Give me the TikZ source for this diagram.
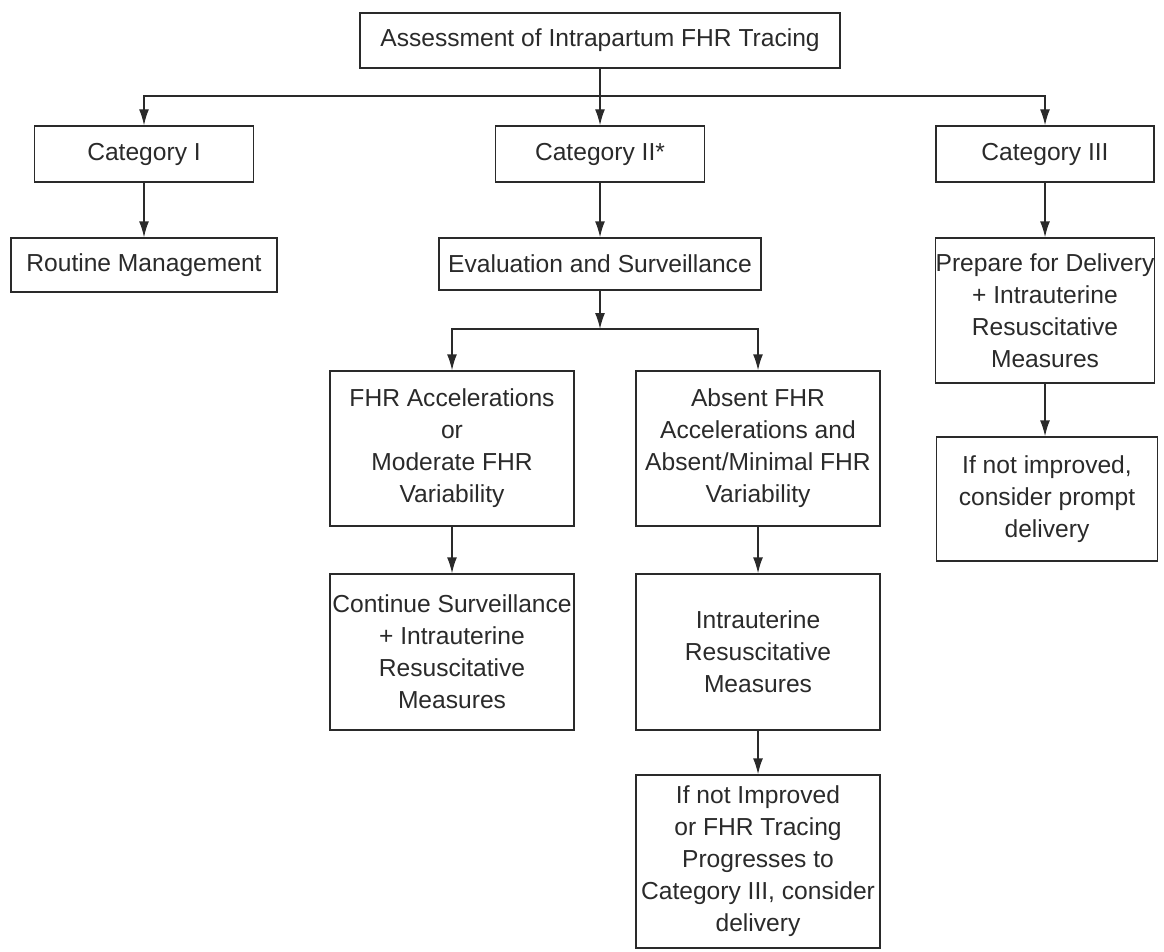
\documentclass[tikz,border=0pt]{standalone}
\usepackage{fontspec}
\setmainfont{Liberation Sans}
\usetikzlibrary{arrows.meta}
\definecolor{ink}{HTML}{2A2A2A}
\tikzset{
  box/.style={draw=ink, line width=1.4pt, rectangle, inner sep=0pt, align=center,
    text=ink, font=\fontsize{24.6}{32}\selectfont},
  arr/.style={draw=ink, line width=1.4pt, -{Latex[length=16pt,width=10pt]}},
}
\begin{document}
\begin{tikzpicture}[x=1pt,y=-1pt]
\useasboundingbox (0,0) rectangle (1164,952);
% row 0
\node[box, minimum width=480pt, minimum height=55pt] (top) at (600,40.5) {Assessment of Intrapartum FHR Tracing};
% row 1
\node[box, minimum width=219pt, minimum height=56pt] (cat1) at (144,154) {Category I};
\node[box, minimum width=209pt, minimum height=56pt] (cat2) at (600,154) {Category II*};
\node[box, minimum width=218pt, minimum height=56pt] (cat3) at (1045,154) {Category III};
% row 2
\node[box, minimum width=266pt, minimum height=54pt] (routine) at (144,265) {Routine Management};
\node[box, minimum width=322pt, minimum height=52pt] (eval) at (600,264) {Evaluation and Surveillance};
\node[box, minimum width=219pt, minimum height=145pt] (prep) at (1045,310.5) {Prepare for Delivery\\+ Intrauterine\\Resuscitative\\Measures};
\node[box, minimum width=221pt, minimum height=124pt] (prompt) at (1047,499) {If not improved,\\consider prompt\\delivery};
% row 3
\node[box, minimum width=244pt, minimum height=155pt] (fhr) at (452,448.5) {FHR Accelerations\\or\\Moderate FHR\\Variability};
\node[box, minimum width=244pt, minimum height=155pt] (absent) at (758,448.5) {Absent FHR\\Accelerations and\\Absent/Minimal FHR\\Variability};
% row 4
\node[box, minimum width=244pt, minimum height=156pt] (cont) at (452,652) {Continue Surveillance\\+ Intrauterine\\Resuscitative\\Measures};
\node[box, minimum width=244pt, minimum height=156pt] (intra) at (758,652) {Intrauterine\\Resuscitative\\Measures};
% row 5
\node[box, minimum width=244pt, minimum height=173pt] (final) at (758,861.5) {If not Improved\\or FHR Tracing\\Progresses to\\Category III, consider\\delivery};
% junctions
\coordinate (j1) at (600,96);
\coordinate (j2) at (600,329);
% connectors
\draw[arr] (top.south) -- (cat2.north);
\draw[arr] (j1) -| (cat1.north);
\draw[arr] (j1) -| (cat3.north);
\draw[arr] (cat1.south) -- (routine.north);
\draw[arr] (cat2.south) -- (eval.north);
\draw[arr] (cat3.south) -- (prep.north);
\draw[arr] (prep.south) -- (prompt.north -| prep.south);
\draw[arr] (eval.south) -- (j2);
\draw[arr] (j2) -| (fhr.north);
\draw[arr] (j2) -| (absent.north);
\draw[arr] (fhr.south) -- (cont.north);
\draw[arr] (absent.south) -- (intra.north);
\draw[arr] (intra.south) -- (final.north);
\end{tikzpicture}
\end{document}
